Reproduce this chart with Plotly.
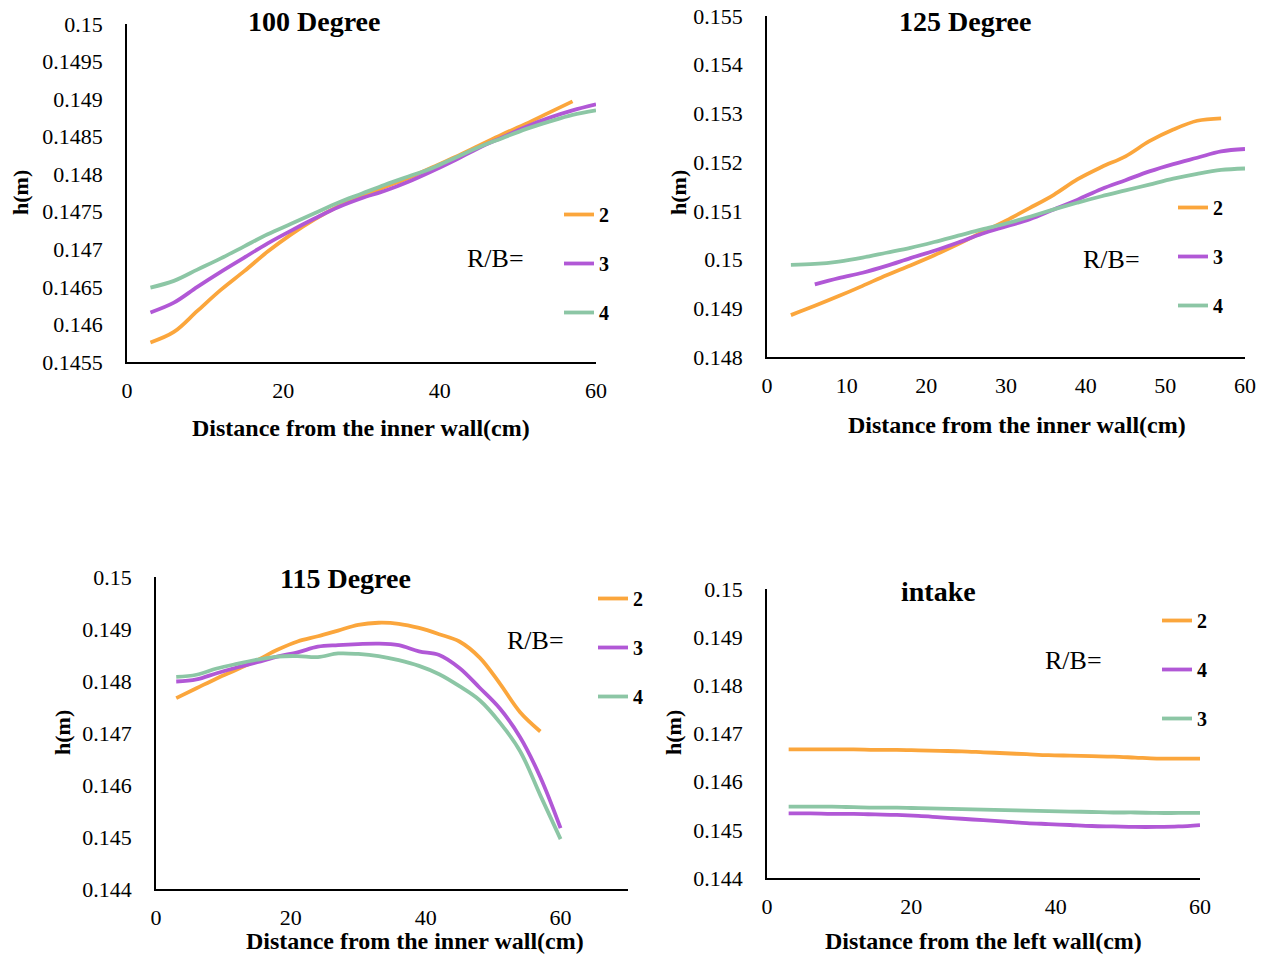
import plotly.graph_objects as go

W, H = 1262, 957

# ---------------- data ----------------
x_full = [3, 6, 9, 12, 15, 18, 21, 24, 27, 30, 33, 36, 39, 42, 45, 48, 51, 54, 57, 60]

# 100 Degree
p100_x2 = x_full[:-1]
p100_rb2 = [0.14576, 0.14590, 0.14618, 0.14646, 0.14671, 0.14697, 0.14720, 0.14740, 0.14757, 0.14771,
            0.14783, 0.14795, 0.14809, 0.14823, 0.14838, 0.14853, 0.14867, 0.14882, 0.14897]
p100_x3 = x_full
p100_rb3 = [0.14616, 0.14629, 0.14650, 0.14670, 0.14689, 0.14708, 0.14725, 0.14741, 0.14756, 0.14768,
            0.14778, 0.14790, 0.14804, 0.14819, 0.14835, 0.14849, 0.14863, 0.14875, 0.14885, 0.14893]
p100_x4 = x_full
p100_rb4 = [0.14649, 0.14658, 0.14673, 0.14688, 0.14704, 0.14720, 0.14734, 0.14748, 0.14762, 0.14774,
            0.14786, 0.14797, 0.14808, 0.14822, 0.14836, 0.14848, 0.14860, 0.14870, 0.14879, 0.14885]

# 125 Degree
p125_x2 = x_full[:-1]
p125_rb2 = [0.14886, 0.14905, 0.14925, 0.14946, 0.14968, 0.14988, 0.15009, 0.15032, 0.15056, 0.15080,
            0.15106, 0.15133, 0.15165, 0.15190, 0.15212, 0.15243, 0.15267, 0.15285, 0.15290]
p125_x3 = x_full[1:]
p125_rb3 = [0.14949, 0.14962, 0.14973, 0.14987, 0.15003, 0.15018, 0.15035, 0.15053, 0.15068,
            0.15083, 0.15103, 0.15123, 0.15145, 0.15163, 0.15181, 0.15196, 0.15209, 0.15222, 0.15227]
p125_x4 = x_full
p125_rb4 = [0.14989, 0.14991, 0.14996, 0.15004, 0.15014, 0.15024, 0.15036, 0.15049, 0.15062, 0.15074,
            0.15088, 0.15103, 0.15117, 0.15130, 0.15142, 0.15154, 0.15166, 0.15176, 0.15184, 0.15187]

# 115 Degree
p115_x2 = x_full[:-1]
p115_rb2 = [0.14767, 0.14786, 0.14805, 0.14822, 0.14840, 0.14860, 0.14876, 0.14886, 0.14897, 0.14908,
            0.14912, 0.14910, 0.14902, 0.14890, 0.14876, 0.14845, 0.14795, 0.14740, 0.14703]
p115_x3 = x_full
p115_rb3 = [0.14799, 0.14803, 0.14815, 0.14826, 0.14836, 0.14847, 0.14855, 0.14866, 0.14869, 0.14871,
            0.14872, 0.14869, 0.14857, 0.14850, 0.14825, 0.14787, 0.14747, 0.14692, 0.14615, 0.14517]
p115_x4 = x_full
p115_rb4 = [0.14808, 0.14812, 0.14824, 0.14833, 0.14841, 0.14847, 0.14848, 0.14846, 0.14853, 0.14852,
            0.14848, 0.14840, 0.14829, 0.14813, 0.14790, 0.14763, 0.14720, 0.14665, 0.14580, 0.14496]

# intake
pin_x = x_full
pin_rb2 = [0.14667, 0.14667, 0.14667, 0.14667, 0.14666, 0.14666, 0.14665, 0.14664, 0.14663, 0.14661,
           0.14659, 0.14657, 0.14655, 0.14654, 0.14653, 0.14652, 0.14650, 0.14648, 0.14648, 0.14648]
pin_rb4 = [0.14534, 0.14534, 0.14533, 0.14533, 0.14532, 0.14531, 0.14529, 0.14526, 0.14523, 0.14520,
           0.14517, 0.14514, 0.14512, 0.14510, 0.14508, 0.14507, 0.14506, 0.14506, 0.14507, 0.14510]
pin_rb3 = [0.14548, 0.14548, 0.14548, 0.14547, 0.14546, 0.14546, 0.14545, 0.14544, 0.14543, 0.14542,
           0.14541, 0.14540, 0.14539, 0.14538, 0.14537, 0.14536, 0.14536, 0.14535, 0.14535, 0.14535]

# tick labels
yt100 = [0.1455, 0.146, 0.1465, 0.147, 0.1475, 0.148, 0.1485, 0.149, 0.1495, 0.15]
yt100_text = ["0.1455", "0.146", "0.1465", "0.147", "0.1475", "0.148", "0.1485", "0.149", "0.1495", "0.15"]
yt125 = [0.148, 0.149, 0.15, 0.151, 0.152, 0.153, 0.154, 0.155]
yt125_text = ["0.148", "0.149", "0.15", "0.151", "0.152", "0.153", "0.154", "0.155"]
yt144 = [0.144, 0.145, 0.146, 0.147, 0.148, 0.149, 0.15]
yt144_text = ["0.144", "0.145", "0.146", "0.147", "0.148", "0.149", "0.15"]

ORANGE = "#FBA63C"
PURPLE = "#B158D6"
GREEN = "#8CC6A5"
SERIF = "Liberation Serif, Times New Roman, serif"

fig = go.Figure()

def add(x, y, name, color, xa, ya, leg, grp):
    fig.add_trace(go.Scatter(
        x=x, y=y, name=name, mode="lines",
        line=dict(color=color, width=3.8, shape="spline", smoothing=1.0),
        xaxis=xa, yaxis=ya, legend=leg, legendgroup=grp,
    ))

add(p100_x2, p100_rb2, "2", ORANGE, "x", "y", "legend", "a1")
add(p100_x3, p100_rb3, "3", PURPLE, "x", "y", "legend", "a2")
add(p100_x4, p100_rb4, "4", GREEN, "x", "y", "legend", "a3")

add(p125_x2, p125_rb2, "2", ORANGE, "x2", "y2", "legend2", "b1")
add(p125_x3, p125_rb3, "3", PURPLE, "x2", "y2", "legend2", "b2")
add(p125_x4, p125_rb4, "4", GREEN, "x2", "y2", "legend2", "b3")

add(p115_x2, p115_rb2, "2", ORANGE, "x3", "y3", "legend3", "c1")
add(p115_x3, p115_rb3, "3", PURPLE, "x3", "y3", "legend3", "c2")
add(p115_x4, p115_rb4, "4", GREEN, "x3", "y3", "legend3", "c3")

add(pin_x, pin_rb2, "2", ORANGE, "x4", "y4", "legend4", "d1")
add(pin_x, pin_rb4, "4", PURPLE, "x4", "y4", "legend4", "d2")
add(pin_x, pin_rb3, "3", GREEN, "x4", "y4", "legend4", "d3")

def px(v):
    return v / W

def py(v):
    return 1 - v / H

tickfont = dict(family=SERIF, size=22, color="black")

def xaxis(dom, rng, dtick, anchor):
    return dict(domain=[px(dom[0]), px(dom[1])], range=rng, dtick=dtick, tick0=0,
                showgrid=False, zeroline=False, showline=True, linecolor="black", linewidth=1.8,
                ticks="", tickfont=tickfont, ticklabelstandoff=8, anchor=anchor, automargin=False,
                fixedrange=True)

def yaxis(dom, rng, tv, tt, anchor):
    return dict(domain=[py(dom[1]), py(dom[0])], range=rng, tickvals=tv, ticktext=tt,
                showgrid=False, zeroline=False, showline=True, linecolor="black", linewidth=1.8,
                ticks="", tickfont=tickfont, ticklabelstandoff=18, anchor=anchor, automargin=False,
                fixedrange=True)

fig.update_layout(
    width=W, height=H,
    margin=dict(l=0, r=0, t=0, b=0),
    paper_bgcolor="white", plot_bgcolor="white",
    font=dict(family=SERIF, color="black"),
    xaxis=xaxis((127, 596), [0, 60], 20, "y"),
    yaxis=yaxis((24, 362), [0.1455, 0.15], yt100, yt100_text, "x"),
    xaxis2=xaxis((767, 1245), [0, 60], 10, "y2"),
    yaxis2=yaxis((16, 357), [0.148, 0.155], yt125, yt125_text, "x2"),
    xaxis3=xaxis((156, 628), [0, 70], 20, "y3"),
    yaxis3=yaxis((577, 889), [0.144, 0.15], yt144, yt144_text, "x3"),
    xaxis4=xaxis((767, 1200), [0, 60], 20, "y4"),
    yaxis4=yaxis((589, 878), [0.144, 0.15], yt144, yt144_text, "x4"),
)

def legend_cfg(left, top):
    return dict(x=px(left), y=py(top), xanchor="left", yanchor="top",
                bgcolor="rgba(0,0,0,0)", borderwidth=0,
                font=dict(family=SERIF, size=20, color="black", weight="bold"),
                tracegroupgap=20, itemwidth=30, traceorder="grouped", itemclick=False)

fig.update_layout(
    legend=legend_cfg(559, 195),
    legend2=legend_cfg(1173, 188),
    legend3=legend_cfg(593, 579),
    legend4=legend_cfg(1157, 601),
)

ann = []
def text(x, y, s, size, bold=False, angle=0):
    ann.append(dict(x=px(x), y=py(y), xref="paper", yref="paper", text=s, showarrow=False,
                    xanchor="center", yanchor="middle", textangle=angle,
                    font=dict(family=SERIF, size=size, color="black",
                              weight="bold" if bold else "normal")))

# panel titles
text(314, 21, "100 Degree", 28, True)
text(965, 21, "125 Degree", 28, True)
text(345, 578, "115 Degree", 28, True)
text(939, 591, "intake", 28, True)
# x-axis titles
text(361, 428, "Distance from the inner wall(cm)", 24, True)
text(1017, 425, "Distance from the inner wall(cm)", 24, True)
text(415, 941, "Distance from the inner wall(cm)", 24, True)
text(983, 941, "Distance from the left wall(cm)", 24, True)
# y-axis titles
text(20, 193, "h(m)", 22, True, -90)
text(678, 193, "h(m)", 22, True, -90)
text(62, 733, "h(m)", 22, True, -90)
text(673, 733, "h(m)", 22, True, -90)
# legend captions
text(495, 258, "R/B=", 26)
text(1111, 259, "R/B=", 26)
text(535, 640, "R/B=", 26)
text(1073, 660, "R/B=", 26)

fig.update_layout(annotations=ann)

fig.write_html("out.html")
